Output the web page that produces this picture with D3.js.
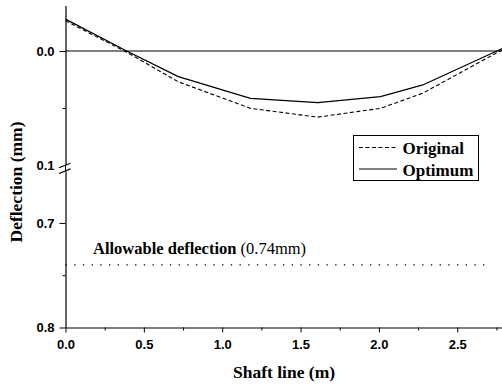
<!DOCTYPE html>
<html>
<head>
<meta charset="utf-8">
<script src="https://cdn.jsdelivr.net/npm/d3@7"></script>
<style>
  body { margin: 0; background: #fff; }
  svg { display: block; }
</style>
</head>
<body>
<div id="chart"></div>
<script>
const width = 502, height = 386;

// shaft positions (m) and deflections (mm)
const shaftX = [0, 0.39, 0.72, 1.18, 1.61, 2.01, 2.28, 2.8];
const originalDefl = [-0.0265, 0.001, 0.027, 0.0503, 0.058, 0.0503, 0.037, -0.002];
const optimumDefl = [-0.028, 0, 0.0225, 0.0415, 0.0453, 0.040, 0.0298, -0.003];

const allowable = 0.74;
const allowableSpan = [0, 2.68];

const xTicks = [0, 0.5, 1.0, 1.5, 2.0, 2.5];
const xMinorTicks = [0.25, 0.75, 1.25, 1.75, 2.25, 2.75];
const yTopTicks = [0.0, 0.1];
const yTopMinor = [0.05];
const yBotTicks = [0.7, 0.8];
const yBotMinor = [0.75];

const x0 = 65.5;
const x = d3.scaleLinear().domain([0, 2.8]).range([x0, x0 + 2.8 * 156.7]);
// broken y axis: two segments
const yTop = d3.scaleLinear().domain([-0.04, 0.1]).range([5.4, 165]);
const yBot = d3.scaleLinear().domain([0.65, 0.8]).range([170.7, 327.5]);

const svg = d3.select("#chart").append("svg")
  .attr("width", width)
  .attr("height", height);

const tickFont = "'Liberation Sans', Arial, sans-serif";
const serif = "'Liberation Serif', 'Times New Roman', serif";

// zero line
svg.append("line")
  .attr("x1", x0).attr("x2", width)
  .attr("y1", yTop(0)).attr("y2", yTop(0))
  .attr("stroke", "#000").attr("stroke-width", 1.2);

// x axis
const xAxis = svg.append("g").attr("transform", `translate(0,${yBot(0.8)})`);
xAxis.call(d3.axisBottom(x).tickValues(xTicks).tickFormat(d3.format(".1f"))
  .tickSize(5).tickSizeOuter(0).tickPadding(7));
xAxis.append("g").call(d3.axisBottom(x).tickValues(xMinorTicks).tickFormat("")
  .tickSize(3).tickSizeOuter(0))
  .select(".domain").remove();

// y axis, top part
const yAxisTop = svg.append("g").attr("transform", `translate(${x0},0)`);
yAxisTop.call(d3.axisLeft(yTop).tickValues(yTopTicks).tickFormat(d3.format(".1f"))
  .tickSize(6).tickSizeOuter(0).tickPadding(5));
yAxisTop.selectAll(".tick").filter(d => d === 0.1).select("line").remove();
yAxisTop.append("g").call(d3.axisLeft(yTop).tickValues(yTopMinor).tickFormat("")
  .tickSize(3).tickSizeOuter(0))
  .select(".domain").remove();

// y axis, bottom part
const yAxisBot = svg.append("g").attr("transform", `translate(${x0},0)`);
yAxisBot.call(d3.axisLeft(yBot).tickValues(yBotTicks).tickFormat(d3.format(".1f"))
  .tickSize(6).tickSizeOuter(0).tickPadding(5));
yAxisBot.append("g").call(d3.axisLeft(yBot).tickValues(yBotMinor).tickFormat("")
  .tickSize(3).tickSizeOuter(0))
  .select(".domain").remove();

// join the two axis parts
svg.append("line")
  .attr("x1", x0).attr("x2", x0)
  .attr("y1", yTop(0.1)).attr("y2", yBot(0.65))
  .attr("stroke", "#000");

svg.selectAll(".domain").attr("stroke", "#000").attr("stroke-width", 1.2);
svg.selectAll(".tick line").attr("stroke", "#000").attr("stroke-width", 1);
svg.selectAll(".tick text")
  .attr("font-family", tickFont)
  .attr("font-weight", "bold")
  .attr("font-size", 13)
  .attr("fill", "#000");

// break marks
[yTop(0.1) + 0.5, yBot(0.65) + 0.5].forEach(yy => {
  svg.append("line")
    .attr("x1", x0 - 6.5).attr("y1", yy + 2.3)
    .attr("x2", x0 + 5).attr("y2", yy - 2.3)
    .attr("stroke", "#000").attr("stroke-width", 1.2);
});

// curves
const line = d3.line().x(d => x(d[0])).y(d => yTop(d[1]));

svg.append("path")
  .datum(d3.zip(shaftX, originalDefl))
  .attr("d", line)
  .attr("fill", "none")
  .attr("stroke", "#000")
  .attr("stroke-width", 1.1)
  .attr("stroke-dasharray", "4,2.5");

svg.append("path")
  .datum(d3.zip(shaftX, optimumDefl))
  .attr("d", line)
  .attr("fill", "none")
  .attr("stroke", "#000")
  .attr("stroke-width", 1.3);

// allowable deflection
svg.append("line")
  .attr("x1", x(allowableSpan[0])).attr("x2", x(allowableSpan[1]))
  .attr("y1", yBot(allowable)).attr("y2", yBot(allowable))
  .attr("stroke", "#000").attr("stroke-width", 1.3)
  .attr("stroke-dasharray", "1.3,7.4");

const allowText = svg.append("text")
  .attr("x", 93).attr("y", 254)
  .attr("font-family", serif)
  .attr("font-size", 16.5)
  .attr("fill", "#000");
allowText.append("tspan").attr("font-weight", "bold").text("Allowable deflection");
allowText.append("tspan").text(" (" + allowable + "mm)");

// legend
const legend = svg.append("g");
legend.append("rect")
  .attr("x", 353.5).attr("y", 135.5)
  .attr("width", 125).attr("height", 45)
  .attr("fill", "#fff").attr("stroke", "#000").attr("stroke-width", 1);
const legendItems = [
  { name: "Original", dash: "4,2.5", y: 147.5 },
  { name: "Optimum", dash: null, y: 169 }
];
legendItems.forEach(it => {
  legend.append("line")
    .attr("x1", 359).attr("x2", 397)
    .attr("y1", it.y).attr("y2", it.y)
    .attr("stroke", "#000").attr("stroke-width", 1.2)
    .attr("stroke-dasharray", it.dash);
  legend.append("text")
    .attr("x", 402.5).attr("y", it.y + 6.5)
    .attr("font-family", serif)
    .attr("font-weight", "bold")
    .attr("font-size", 17)
    .text(it.name);
});

// axis titles
svg.append("text")
  .attr("x", 284).attr("y", 378)
  .attr("text-anchor", "middle")
  .attr("font-family", serif)
  .attr("font-weight", "bold")
  .attr("font-size", 17.5)
  .text("Shaft line (m)");

svg.append("text")
  .attr("transform", "translate(22,182) rotate(-90)")
  .attr("text-anchor", "middle")
  .attr("font-family", serif)
  .attr("font-weight", "bold")
  .attr("font-size", 17.5)
  .text("Deflection (mm)");
</script>
</body>
</html>
